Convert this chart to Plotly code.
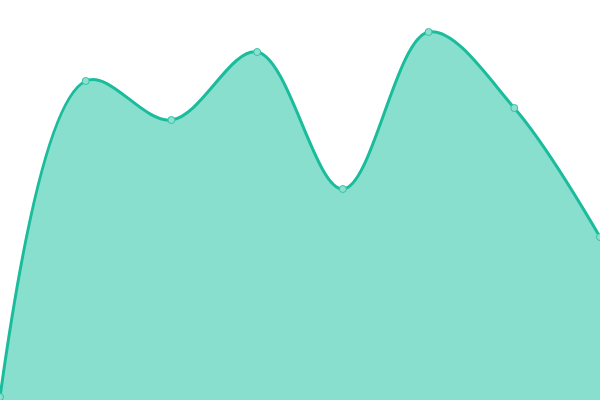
import plotly.graph_objects as go

# category positions and series values (height units)
x_vals = [0, 1, 2, 3, 4, 5, 6, 7]
y_vals = [3, 319, 280, 348, 211, 368, 292, 163]

fig = go.Figure()
fig.add_trace(
    go.Scatter(
        x=x_vals,
        y=y_vals,
        mode="lines+markers",
        line=dict(color="#1abc9c", width=3, shape="spline", smoothing=1),
        fill="tozeroy",
        fillcolor="#88dfce",
        marker=dict(size=7, color="#8ce0cf", line=dict(color="#35c2a5", width=1)),
        hoverinfo="skip",
    )
)
fig.update_layout(
    width=600,
    height=400,
    margin=dict(l=0, r=0, t=0, b=0),
    plot_bgcolor="white",
    paper_bgcolor="white",
    showlegend=False,
    xaxis=dict(range=[0, 7], visible=False, fixedrange=True),
    yaxis=dict(range=[0, 400], visible=False, fixedrange=True),
)
fig.write_html(
    "out.html",
    config={"displayModeBar": False},
    post_script="document.body.style.margin='0';",
)
